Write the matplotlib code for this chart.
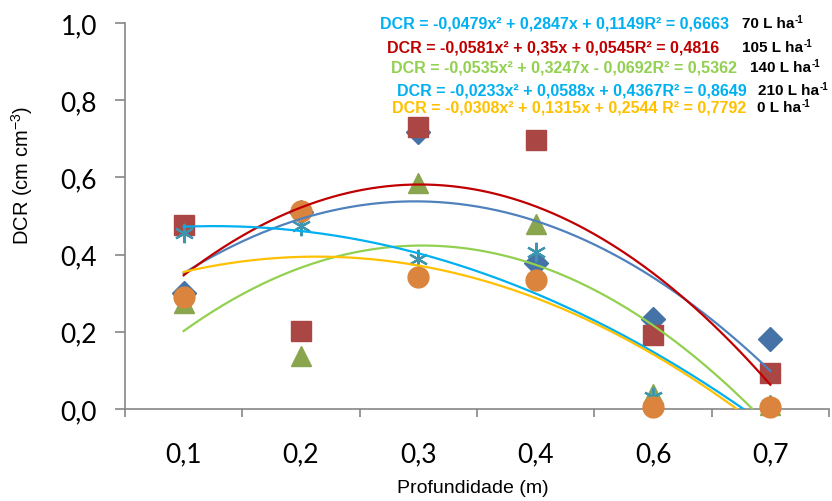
import matplotlib
matplotlib.use("Agg")
import matplotlib.pyplot as plt
from matplotlib.ticker import FixedLocator, FuncFormatter
import numpy as np

# profundidades (eixo categórico)
depths = ["0,1", "0,2", "0,3", "0,4", "0,6", "0,7"]

# DCR observado por dose
dcr_70 = [0.30, 0.51, 0.717, 0.378, 0.233, 0.181]
dcr_105 = [0.477, 0.201, 0.730, 0.697, 0.193, 0.092]
dcr_140 = [0.275, 0.138, 0.585, 0.479, 0.039, 0.010]
dcr_210 = [0.456, 0.475, 0.389, 0.406, 0.030, 0.010]
dcr_0 = [0.291, 0.512, 0.343, 0.334, 0.006, 0.006]

# coeficientes das regressões polinomiais (a, b, c)
coef_70 = [-0.0479, 0.2847, 0.1149]
coef_105 = [-0.0581, 0.35, 0.0545]
coef_140 = [-0.0535, 0.3247, -0.0692]
coef_210 = [-0.0233, 0.0588, 0.4367]
coef_0 = [-0.0308, 0.1315, 0.2544]

eqs = [
    "DCR = -0,0479x² + 0,2847x + 0,1149R² = 0,6663",
    "DCR = -0,0581x² + 0,35x + 0,0545R² = 0,4816",
    "DCR = -0,0535x² + 0,3247x - 0,0692R² = 0,5362",
    "DCR = -0,0233x² + 0,0588x + 0,4367R² = 0,8649",
    "DCR = -0,0308x² + 0,1315x + 0,2544 R² = 0,7792",
]
doses = ["70", "105", "140", "210", "0"]

plt.rcParams["mathtext.fontset"] = "custom"
plt.rcParams["mathtext.rm"] = "Liberation Sans"

W, H = 832, 502
fig = plt.figure(figsize=(W/100, H/100), dpi=100)
ax = fig.add_axes([125/W, 92/H, 704/W, 386/H])

x = np.arange(1, len(depths) + 1)

# pontos
ax.plot(x, dcr_70, "D", color="#4572A7", ms=12, zorder=3, clip_on=False)
ax.plot(x, dcr_105, "s", color="#AA4643", ms=14, zorder=3, clip_on=False)
ax.plot(x, dcr_140, "^", color="#89A54E", ms=14, zorder=3, clip_on=False)
ax.plot(x, dcr_210, marker=(6, 2, 0), ls="none", color="#3D96AE", mew=1.6, ms=14,
        zorder=3, clip_on=False)
ax.plot(x, dcr_0, "o", color="#DB843D", ms=15, zorder=3, clip_on=False)

# linhas de tendência
xs = np.linspace(1, 6, 300)
for coef, col in [(coef_70, "#4F81BD"), (coef_105, "#C00000"), (coef_140, "#92D050"),
                  (coef_210, "#00B0F0"), (coef_0, "#FFC000")]:
    ax.plot(xs, np.polyval(coef, xs), color=col, lw=1.6, zorder=4)

ax.set_xlim(0.5, 6.5)
ax.set_ylim(0, 1.0)

ax.spines["top"].set_visible(False)
ax.spines["right"].set_visible(False)
for s in ["left", "bottom"]:
    ax.spines[s].set_color("#868686")
    ax.spines[s].set_linewidth(1.2)

ax.set_xticks(x)
ax.set_xticklabels(depths, fontsize=19, family="Lato")
ax.xaxis.set_minor_locator(FixedLocator(np.arange(0.5, 6.6, 1)))
ax.tick_params(axis="x", which="major", length=0, pad=23)
ax.tick_params(axis="x", which="minor", length=6, width=1.2, color="#868686")

ax.set_yticks(np.arange(0, 1.01, 0.2))
ax.yaxis.set_major_formatter(FuncFormatter(lambda v, p: f"{v:.1f}".replace(".", ",")))
ax.tick_params(axis="y", length=7, width=1.2, color="#868686", pad=13, labelsize=19)
for lab in ax.get_yticklabels():
    lab.set_family("Lato")

fig.text(22/W, 1 - 175/H, "DCR (cm cm$^{-3}$)", rotation=90, ha="center", va="center",
         fontsize=14.5, family="Liberation Sans")
fig.text(473/W, 1 - 489/H, "Profundidade (m)", ha="center", va="center",
         fontsize=14, family="Liberation Sans")

# equações e doses
eq_cols = ["#00B0F0", "#C00000", "#92D050", "#00B0F0", "#FFC000"]
eq_x = [380, 387, 391, 397, 392]
eq_y = [24, 48, 68, 91, 108]
dose_x = [742, 742, 750, 758, 757]
renderer = fig.canvas.get_renderer()
for eq, col, ex, ey, d, dx in zip(eqs, eq_cols, eq_x, eq_y, doses, dose_x):
    fig.text(ex/W, 1 - ey/H, eq, color=col, fontsize=11.5, fontweight="bold",
             family="Liberation Sans", ha="left", va="center")
    t = fig.text(dx/W, 1 - ey/H, d + " L ha", color="black", fontsize=11,
                 fontweight="bold", family="Liberation Sans", ha="left", va="center")
    bb = t.get_window_extent(renderer)
    fig.text((bb.x1 + 0.5)/W, 1 - (ey - 4)/H, "-1", color="black", fontsize=7,
             fontweight="bold", family="Liberation Sans", ha="left", va="center")

fig.savefig("out.png", dpi=100)
